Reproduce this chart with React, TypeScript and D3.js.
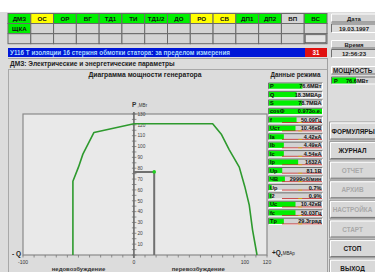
import React from "react";
import * as d3 from "d3";

// ---- data ----
const row1Labels = ["ДМЗ", "ОС", "ОР", "ВГ", "ТД1", "ТИ", "ТД1/2", "ДО", "РО", "СВ", "ДП1", "ДП2", "ВП", "ВС"];
const row1States = ["g", "y", "g", "g", "g", "g", "g", "g", "y", "y", "g", "g", "n", "g"];
const row2Labels = ["ЩКА"];
const row2States = ["g"];
const alarmText = "У116 Т изоляции 16 стержня обмотки статора: за пределом измерения";
const alarmCount = "31";
const sectionTitle = "ДМЗ: Электрические и  энергетические параметры";
const chartTitle = "Диаграмма мощности генератора";
const dateLabel = "Дата";
const dateValue = "19.03.1997";
const timeLabel = "Время";
const timeValue = "12:56:23";
const powerLabel = "МОЩНОСТЬ";
const powerValue = "76.6МВт";

// capability curve (Q, MVAr ; P, MW)
const capQ = [-55, -55, -50, -46, -36, 0, 71, 79, 86, 95, 100, 104, 107, 111];
const capP = [0, 68, 81, 93, 113, 121, 121, 111, 97, 81, 63, 46, 23, 0];
const opQ = 18.3;
const opP = 76.6;
const yTickValues = [10, 20, 30, 40, 50, 60, 70, 80, 90, 100, 110, 120, 130];
const xTickLabels = [-100, 0, 100, 120];

const paramLabels = ["P", "Q", "S", "cosФ", "f", "Uст", "Ia", "Ib", "Ic", "Ip", "Up", "ЧВ", "Uр", "I2", "Uc", "fc", "Tp"];
const paramValues = ["76.6МВт", "18.3МВАр", "78.7МВА", "0.973о.е.", "50.09Гц", "10.46кВ", "4.42кА", "4.49кА", "4.54кА", "1632А", "81.1В", "2999об/мин", "0.7%", "0.9%", "10.42кВ", "50.03Гц", "29.3град"];
const paramFill = [0.63, 0.52, 0.62, 1.0, 0.52, 0.5, 0.28, 0.28, 0.28, 0.55, 0.25, 0.3, 0.05, 0.05, 0.5, 0.5, 0.28];
const paramLimits = [0, 0, 0, 0, 1, 1, 1, 1, 1, 1, 1, 1, 1, 1, 1, 1, 1];

const buttonLabels = ["ФОРМУЛЯРЫ", "ЖУРНАЛ", "ОТЧЕТ", "АРХИВ", "НАСТРОЙКА", "СТАРТ", "СТОП", "ВЫХОД"];
const buttonEnabled = [1, 1, 0, 0, 0, 0, 1, 1];

const FONT = "'Liberation Sans', Arial, sans-serif";
const stateColor: Record<string, string> = { g: "#00f000", y: "#ffff00", n: "#d4d4d4" };

function Raised({ x, y, w, h, fill = "#d6d6d6" }: any) {
  return (
    <g>
      <rect x={x} y={y} width={w} height={h} fill={fill} />
      <path d={`M${x + 0.5},${y + h - 0.5}V${y + 0.5}H${x + w - 0.5}`} stroke="#ffffff" fill="none" />
      <path d={`M${x + 0.5},${y + h - 0.5}H${x + w - 0.5}V${y + 0.5}`} stroke="#707070" fill="none" />
    </g>
  );
}

function Sunken({ x, y, w, h, fill = "#d6d6d6" }: any) {
  return (
    <g>
      <rect x={x} y={y} width={w} height={h} fill={fill} />
      <path d={`M${x + 0.5},${y + h - 0.5}V${y + 0.5}H${x + w - 0.5}`} stroke="#707070" fill="none" />
      <path d={`M${x + 0.5},${y + h - 0.5}H${x + w - 0.5}V${y + 0.5}`} stroke="#ffffff" fill="none" />
    </g>
  );
}

export default function App() {
  const W = 375, H = 272;
  // chart scales
  const x = d3.scaleLinear().domain([-100, 120]).range([23, 267]);
  const y = d3.scaleLinear().domain([0, 130]).range([255, 114]);
  const pts: [number, number][] = capQ.map((q, i) => [q, capP[i]]);
  const line = d3.line<[number, number]>().x((d) => x(d[0])).y((d) => y(d[1]));
  const x0 = x(0);

  // grid
  const gx0 = 8, gx1 = 327;
  const cw = (gx1 - gx0) / 14;
  const rowYs = [13.5, 23.5, 33.7];
  const rh = 10;

  // param rows
  const px = 268, pw = 55, py0 = 82.5, pstep = 8.45, ph = 7.2;
  const pFill = d3.scaleLinear().domain([0, 1]).range([0, pw - 2]);

  // buttons
  const bx = 330, bw = 46, by0 = 122.5, bstep = 19.6, bh = 17;

  const minorTicks = d3.range(0, 131, 5);
  const xMinor = d3.range(-100, 121, 10);

  return (
    <svg width={W} height={H} style={{ position: "absolute", left: 0, top: 0 }} fontFamily={FONT}>
      <rect x={0} y={0} width={W} height={H} fill="#dcdcdc" />
      <rect x={0} y={0} width={W} height={12} fill="#ffffff" />

      {/* status grid */}
      {[0, 1, 2].map((r) =>
        d3.range(14).map((c) => {
          let label = "";
          let st = "n";
          if (r === 0) { label = row1Labels[c]; st = row1States[c]; }
          if (r === 1 && c < row2Labels.length) { label = row2Labels[c]; st = row2States[c]; }
          return (
            <g key={`g${r}-${c}`}>
              <rect x={gx0 + c * cw} y={rowYs[r]} width={cw} height={rh} fill={stateColor[st]} stroke="#6a6a6a" strokeWidth={1} />
              {label && (
                <text x={gx0 + c * cw + cw / 2} y={rowYs[r] + 7.3} fontSize={6.2} fontWeight="bold" textAnchor="middle" fill="#111">{label}</text>
              )}
            </g>
          );
        })
      )}
      <rect x={gx0 + 13 * cw + 1} y={rowYs[2] + 1} width={cw - 2} height={rh - 2} fill="#e4e4e4" stroke="#555" strokeWidth={0.8} />

      {/* alarm bar */}
      <rect x={8} y={48} width={297} height={9} fill="#0018d8" />
      <text x={10} y={55} fontSize={6.3} fontWeight="bold" fill="#a8d8ff">{alarmText}</text>
      <rect x={305} y={48} width={22} height={9} fill="#e01010" />
      <text x={316} y={55} fontSize={6.3} fontWeight="bold" fill="#ffffff" textAnchor="middle">{alarmCount}</text>

      {/* section header */}
      <line x1={8} x2={327} y1={58.5} y2={58.5} stroke="#a0a0a0" />
      <text x={10} y={66} fontSize={6.6} fontWeight="bold" fill="#222">{sectionTitle}</text>
      <line x1={8} x2={327} y1={69.5} y2={69.5} stroke="#a8a8a8" />
      <line x1={8.5} x2={8.5} y1={69} y2={272} stroke="#a8a8a8" />
      <line x1={327.5} x2={327.5} y1={58} y2={272} stroke="#a0a0a0" />

      {/* chart */}
      <text x={145} y={77} fontSize={6.8} fontWeight="bold" fill="#222" textAnchor="middle">{chartTitle}</text>
      <rect x={x(-100)} y={y(130)} width={x(120) - x(-100)} height={y(0) - y(130)} fill="#e9e9e9" stroke="#8a8a8a" strokeWidth={1.2} />
      <text x={x0 - 2} y={107} fontSize={6.5} fontWeight="bold" fill="#333">P<tspan fontSize={4.5} fontWeight="normal"> ,МВт</tspan></text>

      {/* x ticks */}
      {xMinor.map((v) => (
        <line key={`xt${v}`} x1={x(v)} x2={x(v)} y1={y(0)} y2={y(0) + 2.5} stroke="#777" strokeWidth={0.8} />
      ))}
      {xTickLabels.map((v) => (
        <text key={`xl${v}`} x={x(v)} y={263.5} fontSize={5} fill="#333" textAnchor="middle">{v}</text>
      ))}

      {/* y axis */}
      <line x1={x0} x2={x0} y1={y(130) - 2} y2={y(0) + 3} stroke="#6a6a6a" strokeWidth={1.6} />
      {minorTicks.map((v) => (
        <line key={`yt${v}`} x1={x0 - 2} x2={x0 + 2.5} y1={y(v)} y2={y(v)} stroke="#6a6a6a" strokeWidth={0.7} />
      ))}
      {yTickValues.map((v) => (
        <text key={`yl${v}`} x={x0 + 3.5} y={y(v) + 1.8} fontSize={4.8} fill="#444">{v}</text>
      ))}

      {/* operating point */}
      <path d={`M${x0},${y(opP)}H${x(opQ)}V${y(0)}`} stroke="#707070" strokeWidth={2} fill="none" />
      <path d={line(pts) || ""} stroke="#2e9a2e" strokeWidth={1.6} fill="none" strokeLinejoin="round" />
      <circle cx={x(opQ)} cy={y(opP)} r={1.8} fill="#20d020" />

      <text x={12} y={256} fontSize={6.5} fontWeight="bold" fill="#222">- Q</text>
      <text x={272} y={255} fontSize={6.5} fontWeight="bold" fill="#222">+Q,<tspan fontSize={4.5} fontWeight="normal">МВАр</tspan></text>
      <text x={x(-50)} y={270.5} fontSize={6} fontWeight="bold" fill="#333" textAnchor="middle">недовозбуждение</text>
      <text x={x(58)} y={270.5} fontSize={6} fontWeight="bold" fill="#333" textAnchor="middle">перевозбуждение</text>

      {/* data panel */}
      <text x={px + pw / 2} y={77} fontSize={6.3} fontWeight="bold" fill="#222" textAnchor="middle">Данные режима</text>
      {paramLabels.map((lab, i) => {
        const yy = py0 + i * pstep;
        return (
          <g key={`p${i}`}>
            <Sunken x={px} y={yy} w={pw} h={ph} fill="#d2d2d2" />
            <rect x={px + 1} y={yy + 1} width={pFill(paramFill[i])} height={ph - 2} fill="#00ee00" />
            {paramLimits[i] ? (
              <g>
                <line x1={px + 14} x2={px + pw - 1} y1={yy + ph - 1} y2={yy + ph - 1} stroke="#c02020" strokeWidth={0.8} />
                <line x1={px + pw * 0.55} x2={px + pw * 0.62} y1={yy + ph - 1} y2={yy + ph - 1} stroke="#d0c000" strokeWidth={0.8} />
              </g>
            ) : null}
            <text x={px + 2} y={yy + 5.6} fontSize={5.6} fontWeight="bold" fill="#111">{lab}</text>
            <text x={px + pw - 1.5} y={yy + 5.6} fontSize={5.6} fontWeight="bold" fill="#111" textAnchor="end">{paramValues[i]}</text>
          </g>
        );
      })}

      {/* right panel */}
      <Raised x={331} y={13.5} w={46} h={9} fill="#d4d4d4" />
      <text x={354} y={20.5} fontSize={6} fontWeight="bold" fill="#222" textAnchor="middle">{dateLabel}</text>
      <Sunken x={331} y={23.5} w={46} h={9.5} fill="#dadada" />
      <text x={354} y={30.5} fontSize={6} fontWeight="bold" fill="#222" textAnchor="middle">{dateValue}</text>
      <Raised x={331} y={40} w={46} h={8.5} fill="#d4d4d4" />
      <text x={354} y={46.5} fontSize={6} fontWeight="bold" fill="#222" textAnchor="middle">{timeLabel}</text>
      <Sunken x={331} y={49} w={46} h={9} fill="#dadada" />
      <text x={354} y={55.5} fontSize={6} fontWeight="bold" fill="#222" textAnchor="middle">{timeValue}</text>
      <Raised x={331} y={66} w={46} h={8.5} fill="#d4d4d4" />
      <text x={333} y={72.5} fontSize={6.4} fontWeight="bold" fill="#222">{powerLabel}</text>
      <Sunken x={331} y={76.5} w={46} h={8} fill="#d2d2d2" />
      <rect x={332} y={77.5} width={24} height={6} fill="#00ee00" />
      <text x={334} y={82.8} fontSize={5.6} fontWeight="bold" fill="#111">P</text>
      <text x={346} y={82.8} fontSize={5.6} fontWeight="bold" fill="#111">{powerValue}</text>

      {buttonLabels.map((b, i) => {
        const yy = by0 + i * bstep;
        return (
          <g key={`b${i}`}>
            <rect x={bx - 0.5} y={yy - 0.5} width={bw + 1} height={bh + 1} fill="none" stroke="#9a9a9a" />
            <Raised x={bx} y={yy} w={bw} h={bh} fill="#d8d8d8" />
            <text x={i === 0 ? bx + 1.5 : bx + 22.5} y={yy + 11} fontSize={6.4} fontWeight="bold" fill={buttonEnabled[i] ? "#1a1a1a" : "#a8a8a8"} textAnchor={i === 0 ? "start" : "middle"}>{b}</text>
          </g>
        );
      })}
    </svg>
  );
}
